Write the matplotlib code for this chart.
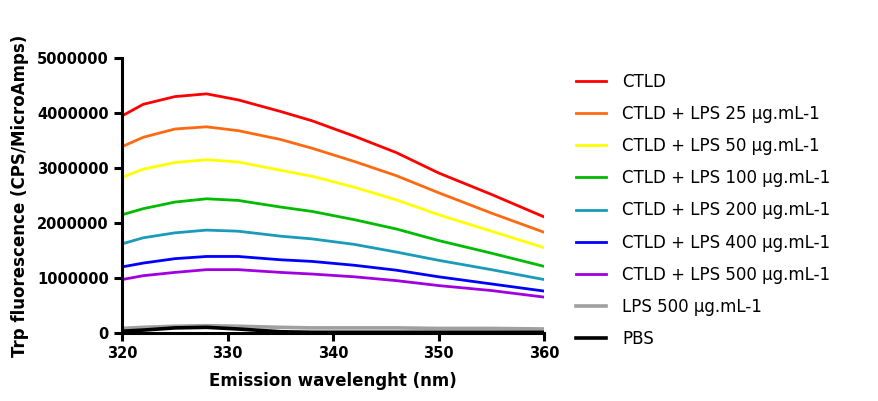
import numpy as np
import matplotlib
matplotlib.use("Agg")
import matplotlib.pyplot as plt
from matplotlib.ticker import FuncFormatter

wavelength = [320, 322, 325, 328, 331, 335, 338, 342, 346, 350, 355, 360]

ctld     = [3.95, 4.16, 4.30, 4.35, 4.24, 4.03, 3.86, 3.58, 3.28, 2.91, 2.52, 2.11]
lps25    = [3.39, 3.56, 3.71, 3.75, 3.68, 3.52, 3.36, 3.12, 2.86, 2.55, 2.18, 1.83]
lps50    = [2.83, 2.98, 3.10, 3.15, 3.11, 2.96, 2.85, 2.65, 2.42, 2.15, 1.85, 1.55]
lps100   = [2.15, 2.26, 2.38, 2.44, 2.41, 2.29, 2.21, 2.06, 1.89, 1.68, 1.45, 1.21]
lps200   = [1.62, 1.73, 1.82, 1.87, 1.85, 1.76, 1.71, 1.61, 1.47, 1.32, 1.15, 0.97]
lps400   = [1.20, 1.27, 1.35, 1.39, 1.39, 1.33, 1.30, 1.23, 1.14, 1.02, 0.89, 0.76]
lps500   = [0.97, 1.04, 1.10, 1.15, 1.15, 1.10, 1.07, 1.02, 0.95, 0.86, 0.77, 0.65]
lps_only = [0.08, 0.10, 0.12, 0.13, 0.12, 0.10, 0.09, 0.09, 0.09, 0.08, 0.08, 0.07]
pbs      = [0.03, 0.05, 0.09, 0.10, 0.07, 0.02, 0.01, 0.01, 0.01, 0.01, 0.01, 0.01]

labels = ["CTLD", "CTLD + LPS 25 µg.mL-1", "CTLD + LPS 50 µg.mL-1",
          "CTLD + LPS 100 µg.mL-1", "CTLD + LPS 200 µg.mL-1",
          "CTLD + LPS 400 µg.mL-1", "CTLD + LPS 500 µg.mL-1",
          "LPS 500 µg.mL-1", "PBS"]
series = [ctld, lps25, lps50, lps100, lps200, lps400, lps500, lps_only, pbs]
colors = ["#ff0000", "#ff6a10", "#ffff00", "#00bb00", "#1a9bb8",
          "#0000ff", "#a000e0", "#a0a0a0", "#000000"]
widths = [2.0, 2.0, 2.0, 2.0, 2.0, 2.0, 2.0, 2.6, 2.6]

fig = plt.figure(figsize=(8.79, 4.01), dpi=100)
ax = fig.add_axes([0.139, 0.170, 0.480, 0.685])

for y, c, lab, w in zip(series, colors, labels, widths):
    ax.plot(wavelength, np.array(y) * 1e6, color=c, lw=w, label=lab,
            solid_joinstyle="miter")

ax.set_xlim(320, 360)
ax.set_ylim(0, 5000000)
ax.set_xticks([320, 330, 340, 350, 360])
ax.set_yticks([0, 1000000, 2000000, 3000000, 4000000, 5000000])
ax.yaxis.set_major_formatter(FuncFormatter(lambda v, p: "%d" % v))

for s in ["top", "right"]:
    ax.spines[s].set_visible(False)
for s in ["left", "bottom"]:
    ax.spines[s].set_linewidth(2.2)
ax.tick_params(direction="out", width=2.2, length=6)
for t in ax.get_xticklabels() + ax.get_yticklabels():
    t.set_fontweight("bold")
    t.set_fontsize(10.5)

ax.set_xlabel("Emission wavelenght (nm)", fontsize=12, fontweight="bold", labelpad=8)
ax.set_ylabel("Trp fluorescence (CPS/MicroAmps)", fontsize=12, fontweight="bold", labelpad=6)

ax.legend(loc="upper left", bbox_to_anchor=(0.648, 0.835), bbox_transform=fig.transFigure,
          frameon=False, fontsize=12, handlelength=1.8, handletextpad=0.95,
          labelspacing=0.85, borderaxespad=0)

fig.savefig("out.png", dpi=100)
